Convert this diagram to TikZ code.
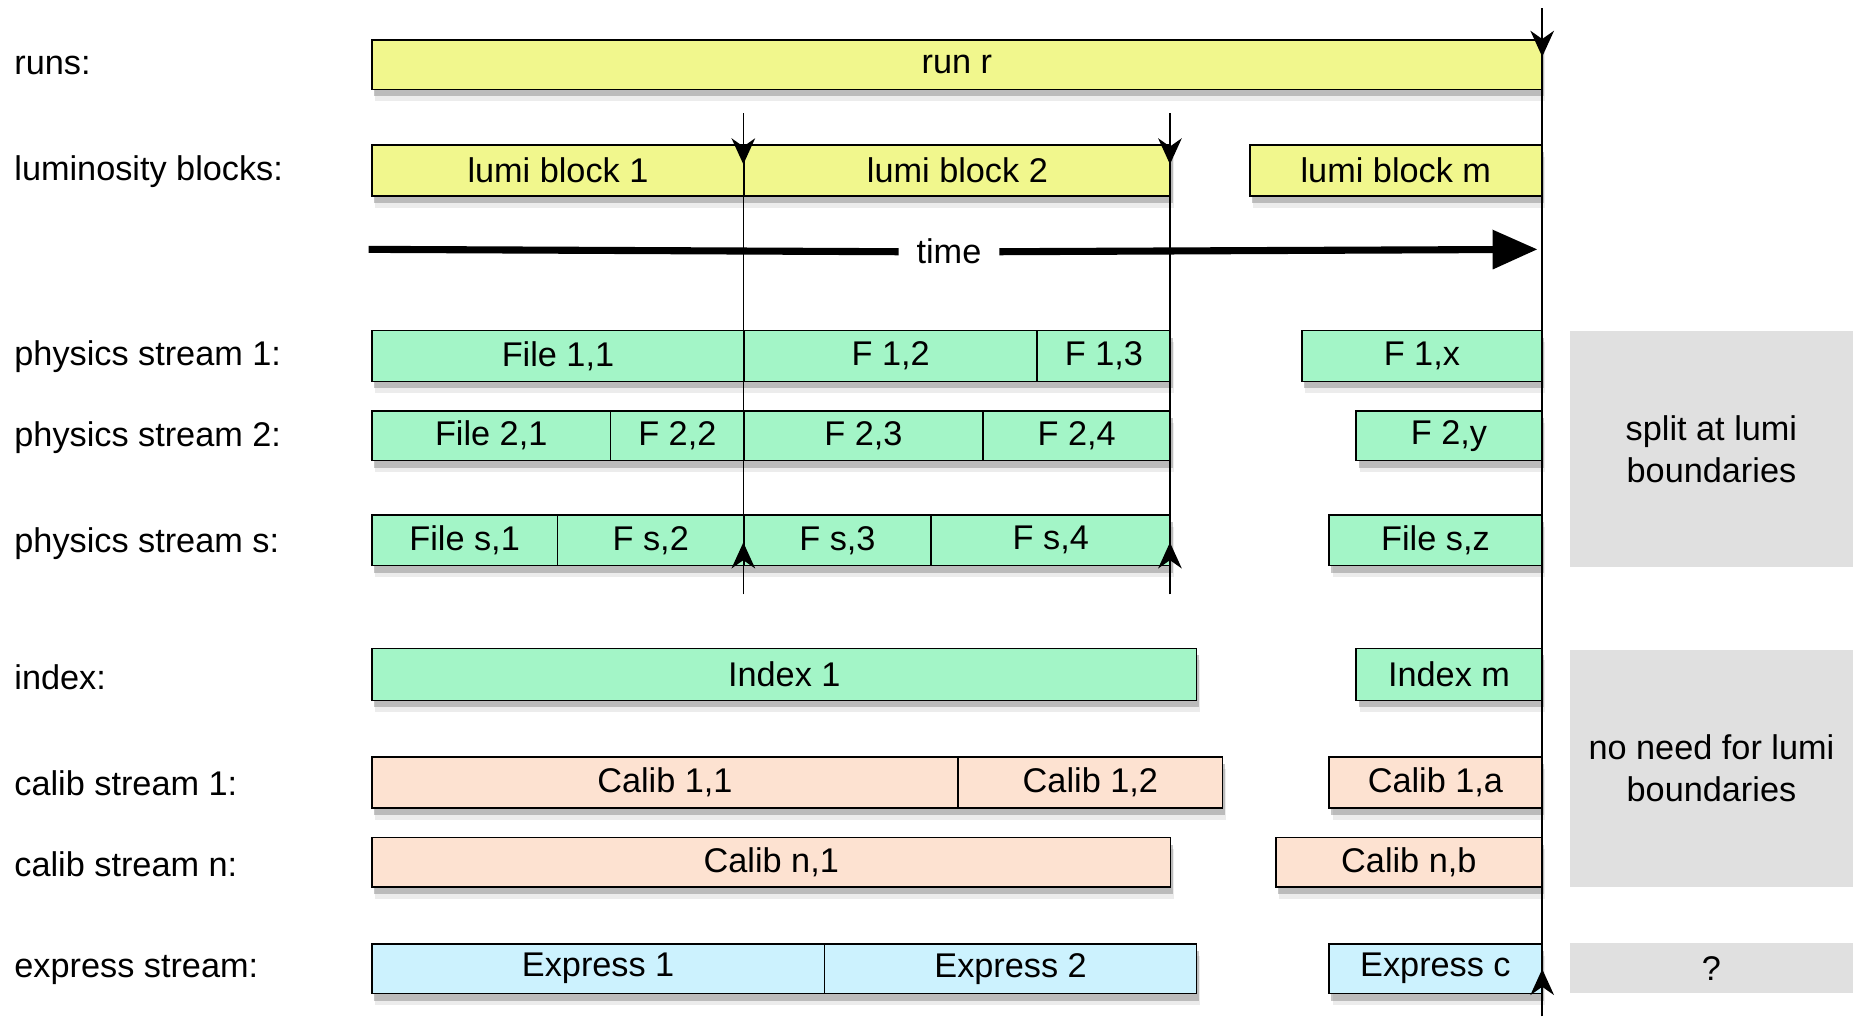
\documentclass[tikz,border=0pt]{standalone}
\usepackage{fontspec}
\setmainfont{Liberation Sans}
\usetikzlibrary{arrows.meta,shadows}
\definecolor{ylw}{HTML}{F1F78D}
\definecolor{grn}{HTML}{A3F5C7}
\definecolor{pch}{HTML}{FDE2D1}
\definecolor{blu}{HTML}{CCF2FE}
\definecolor{gry}{HTML}{E0E0E0}
\begin{document}
\begin{tikzpicture}[x=1pt,y=-1pt,
  every node/.style={font=\fontsize{29}{35}\selectfont, inner sep=0pt},
  seg/.style={draw=black, line width=1.3pt, anchor=north west, inner sep=0pt,
    drop shadow={shadow xshift=3pt, shadow yshift=-10pt, opacity=0.15},
    drop shadow={shadow xshift=2pt, shadow yshift=-6pt, opacity=0.45}},
  ybox/.style={seg, fill=ylw},
  gbox/.style={seg, fill=grn},
  pbox/.style={seg, fill=pch},
  bbox/.style={seg, fill=blu},
  rowlbl/.style={anchor=west},
  note/.style={fill=gry, anchor=north west, align=center, minimum width=240pt},
  bound/.style={line width=1.3pt},
  tipdown/.style={bound, -{Stealth[length=22pt,width=20pt,inset=7pt]}},
  timeline/.style={line width=6pt},
]
\useasboundingbox (0,0) rectangle (1568,860);

% row labels
\node[rowlbl] (lruns) at (12,55) {runs:};
\node[rowlbl] (llumi) at (12,145) {luminosity blocks:};
\node[rowlbl] (lp1) at (12,302) {physics stream 1:};
\node[rowlbl] (lp2) at (12,370) {physics stream 2:};
\node[rowlbl] (lps) at (12,460) {physics stream s:};
\node[rowlbl] (lidx) at (12,573) {index:};
\node[rowlbl] (lc1) at (12,663) {calib stream 1:};
\node[rowlbl] (lcn) at (12,731) {calib stream n:};
\node[rowlbl] (lex) at (12,821) {express stream:};

% gray notes
\node[note, minimum height=200pt] (n1) at (1328,280) {split at lumi\\boundaries};
\node[note, minimum height=200pt] (n2) at (1328,550) {no need for lumi\\boundaries};
\node[note, minimum height=42pt] (n3) at (1328,798) {?};

% runs
\node[ybox, minimum width=990pt, minimum height=42pt] (run) at (314,33) {run r};
% lumi blocks
\node[ybox, minimum width=315pt, minimum height=43pt] (lb1) at (314,122) {lumi block 1};
\node[ybox, minimum width=361pt, minimum height=43pt] (lb2) at (629,122) {lumi block 2};
\node[ybox, minimum width=247pt, minimum height=43pt] (lbm) at (1057,122) {lumi block m};

% physics stream 1
\node[gbox, minimum width=315pt, minimum height=43pt] (f11) at (314,279) {File 1,1};
\node[gbox, minimum width=248pt, minimum height=43pt] (f12) at (629,279) {F 1,2};
\node[gbox, minimum width=113pt, minimum height=43pt] (f13) at (877,279) {F 1,3};
\node[gbox, minimum width=203pt, minimum height=43pt] (f1x) at (1101,279) {F 1,x};
% physics stream 2
\node[gbox, minimum width=202pt, minimum height=42pt] (f21) at (314,347) {File 2,1};
\node[gbox, minimum width=113pt, minimum height=42pt] (f22) at (516,347) {F 2,2};
\node[gbox, minimum width=202pt, minimum height=42pt] (f23) at (629,347) {F 2,3};
\node[gbox, minimum width=159pt, minimum height=42pt] (f24) at (831,347) {F 2,4};
\node[gbox, minimum width=157pt, minimum height=42pt] (f2y) at (1147,347) {F 2,y};
% physics stream s
\node[gbox, minimum width=157pt, minimum height=43pt] (fs1) at (314,435) {File s,1};
\node[gbox, minimum width=158pt, minimum height=43pt] (fs2) at (471,435) {F s,2};
\node[gbox, minimum width=158pt, minimum height=43pt] (fs3) at (629,435) {F s,3};
\node[gbox, minimum width=203pt, minimum height=43pt] (fs4) at (787,435) {F s,4};
\node[gbox, minimum width=180pt, minimum height=43pt] (fsz) at (1124,435) {File s,z};
% index
\node[gbox, minimum width=698pt, minimum height=44pt] (i1) at (314,548) {Index 1};
\node[gbox, minimum width=157pt, minimum height=44pt] (im) at (1147,548) {Index m};
% calib stream 1
\node[pbox, minimum width=496pt, minimum height=43pt] (c11) at (314,640) {Calib 1,1};
\node[pbox, minimum width=224pt, minimum height=43pt] (c12) at (810,640) {Calib 1,2};
\node[pbox, minimum width=180pt, minimum height=43pt] (c1a) at (1124,640) {Calib 1,a};
% calib stream n
\node[pbox, minimum width=676pt, minimum height=42pt] (cn1) at (314,708) {Calib n,1};
\node[pbox, minimum width=225pt, minimum height=42pt] (cnb) at (1079,708) {Calib n,b};
% express
\node[bbox, minimum width=383pt, minimum height=42pt] (e1) at (314,798) {Express 1};
\node[bbox, minimum width=315pt, minimum height=42pt] (e2) at (697,798) {Express 2};
\node[bbox, minimum width=180pt, minimum height=42pt] (ec) at (1124,798) {Express c};

% time arrow
\coordinate (tstart) at (312,211);
\coordinate (tend) at (1301,211);
\node[fill=white, inner xsep=15pt, inner ysep=4pt] (time) at (803,213) {time};
\draw[timeline] (tstart) -- (time.west);
\draw[timeline, -{Triangle[length=38pt,width=32pt]}] (time.east) -- (tend);

% boundary lines
\coordinate (v1top) at (629,96);
\coordinate (v1tip) at (629,139);
\coordinate (v1up) at (629,459);
\coordinate (v1bot) at (629,503);
\coordinate (v2top) at (990,96);
\coordinate (v2tip) at (990,139);
\coordinate (v2up) at (990,459);
\coordinate (v2bot) at (990,503);
\coordinate (v3top) at (1305,7);
\coordinate (v3tip) at (1305,48);
\coordinate (v3up) at (1305,820);
\coordinate (v3bot) at (1305,860);

\draw[bound] (v1top) -- (v1bot);
\draw[bound] (v2top) -- (v2bot);
\draw[bound] (v3top) -- (v3bot);
\draw[tipdown] (v1top) -- (v1tip);
\draw[tipdown] (v2top) -- (v2tip);
\draw[tipdown] (v3top) -- (v3tip);
\draw[tipdown] (v1bot) -- (v1up);
\draw[tipdown] (v2bot) -- (v2up);
\draw[tipdown] (v3bot) -- (v3up);
\end{tikzpicture}
\end{document}
